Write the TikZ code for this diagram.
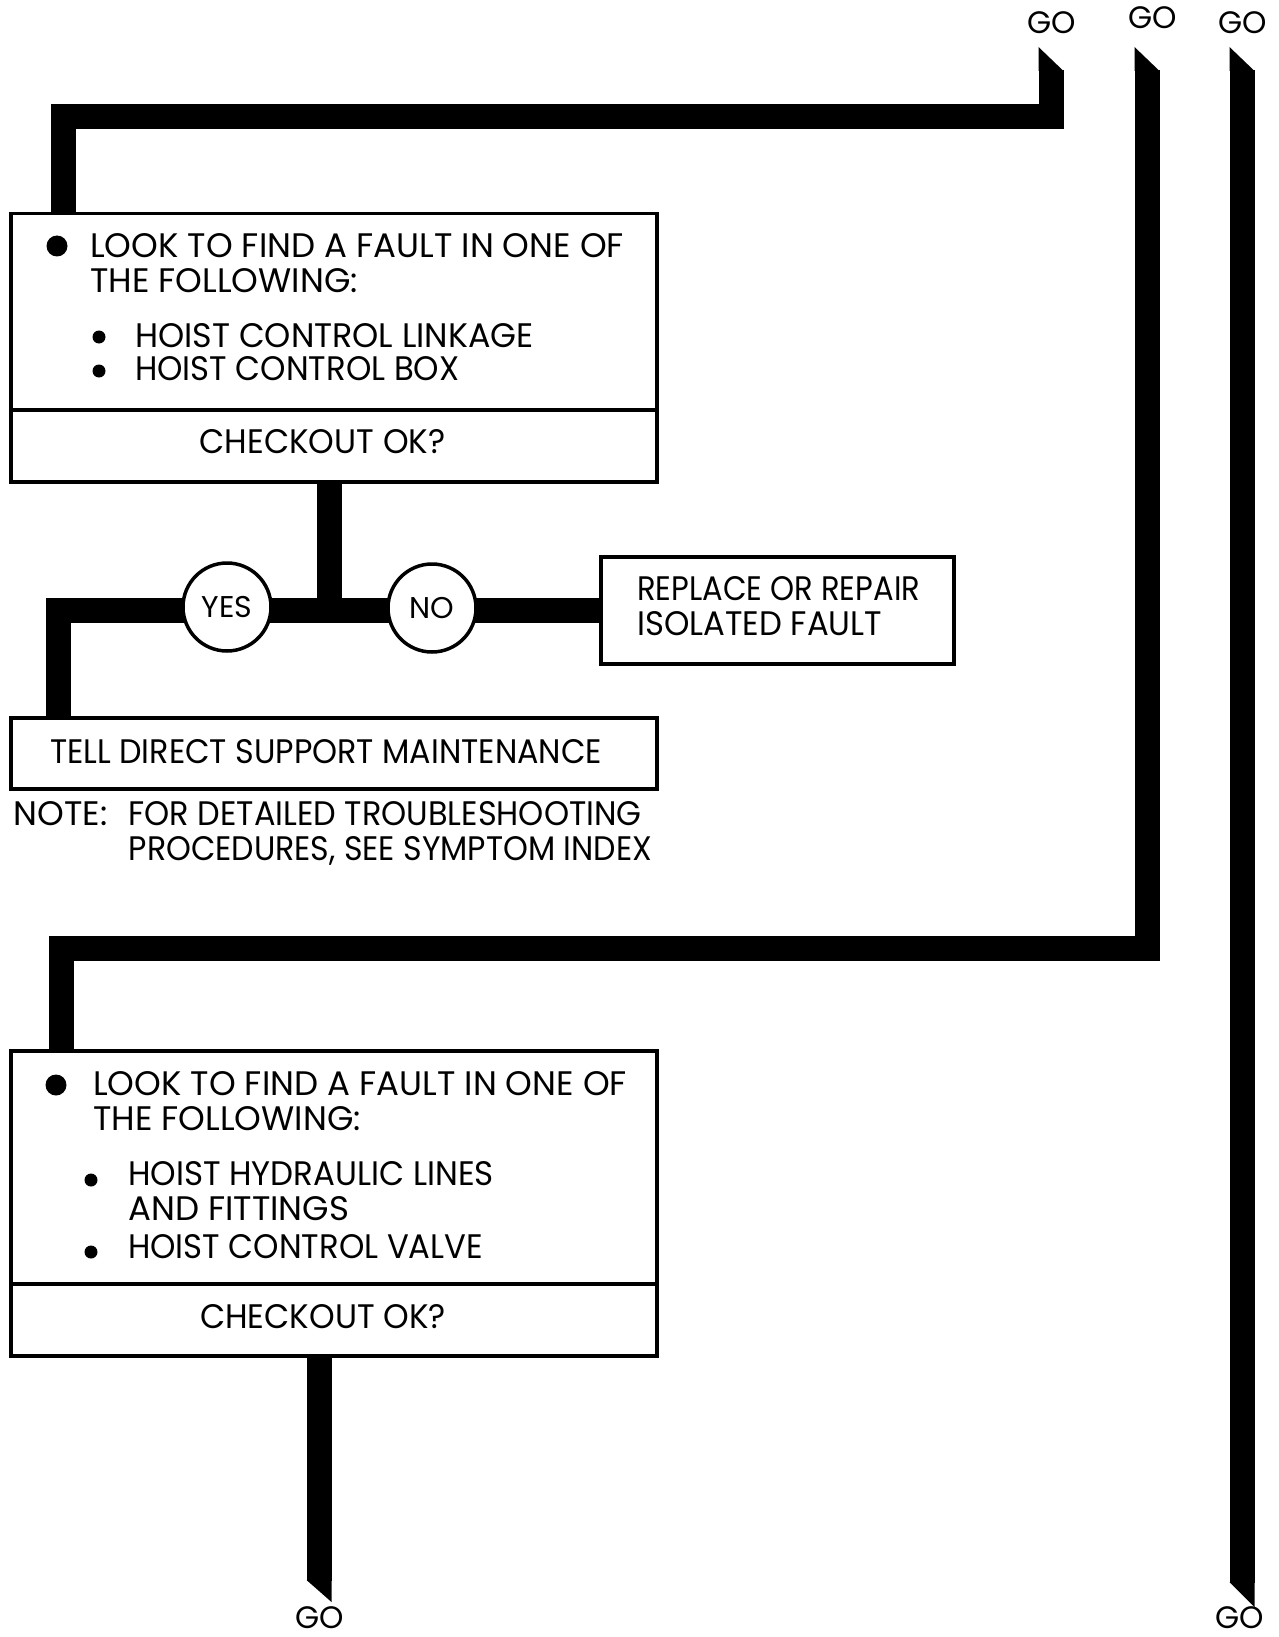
\documentclass[tikz,border=0pt]{standalone}
\usepackage{graphicx}
\usepackage{fontspec}
\setmainfont{Poppins}
\newcommand\squeezex[2]{\scalebox{#1}[1]{#2}}
\begin{document}
\begin{tikzpicture}[x=1pt,y=-1pt,
  boxline/.style={draw, line width=3.5pt, inner sep=0pt, anchor=north west},
  conn/.style={line width=25pt, line join=miter},
  txt/.style={anchor=base west, inner sep=0pt, font=\fontsize{34}{40}\selectfont},
  ctxt/.style={anchor=base, inner sep=0pt, font=\fontsize{34}{40}\selectfont},
  gotxt/.style={anchor=base, inner sep=0pt, font=\fontsize{31}{36}\selectfont},
  answer/.style={circle, draw, fill=white, line width=3.5pt, minimum size=88pt, inner sep=0pt, font=\fontsize{30}{34}\selectfont}]
\useasboundingbox (0,0) rectangle (1278,1637);
\fill[white] (0,0) rectangle (1278,1637);

% boxes
\node[boxline, minimum width=646pt, minimum height=196pt] (b1top) at (9,212) {};
\node[boxline, minimum width=646pt, minimum height=72pt] (b1bot) at (9,408) {};
\node[boxline, minimum width=353pt, minimum height=107pt] (rep) at (599,555) {};
\node[boxline, minimum width=646pt, minimum height=71pt] (b3) at (9,716) {};
\node[boxline, minimum width=646pt, minimum height=233pt] (b4top) at (9,1049) {};
\node[boxline, minimum width=646pt, minimum height=72pt] (b4bot) at (9,1282) {};

% free ends
\coordinate (go1end) at (1051,70);
\coordinate (c1) at (1051,116.5);
\coordinate (go2end) at (1147,70);
\coordinate (c2) at (1147,948.5);
\coordinate (go3top) at (1242,70);
\coordinate (go3bot) at (1242,1583);
\coordinate (go4bot) at (319,1581);
\coordinate (jn) at (329,608);

% connectors
\draw[conn] ([xshift=54.5pt]b1top.north west) |- (c1) -- (go1end);
\draw[conn] ([xshift=52.5pt]b4top.north west) |- (c2) -- (go2end);
\draw[conn] (go3top) -- (go3bot);
\draw[conn] (b4bot.south -| go4bot) -- (go4bot);
\draw[conn] (b1bot.south -| jn) -- (jn);
\draw[conn] ([xshift=49.5pt]b3.north west) |- (rep.west);

% chamfered ends
\fill (1038.5,47) -- (1063.5,71) -- (1038.5,71) -- cycle;
\fill (1134.5,47) -- (1159.5,71) -- (1134.5,71) -- cycle;
\fill (1229.5,47) -- (1254.5,71) -- (1229.5,71) -- cycle;
\fill (1229.5,1582) -- (1254.5,1582) -- (1254.5,1607) -- cycle;
\fill (306.5,1580) -- (331.5,1580) -- (331.5,1602) -- cycle;

% answers
\node[answer] (yes) at (227,607) {YES};
\node[answer] (no) at (432,608) {NO};

% box 1 text
\fill (57,246) circle (10.5pt);
\node[txt] (t1a) at (90,258) {LOOK TO FIND A FAULT IN ONE OF};
\node[txt] (t1b) at (90,292) {THE FOLLOWING:};
\fill (99,337) circle (6.5pt);
\node[txt] (t1c) at (135,347) {\squeezex{0.98}{HOIST CONTROL LINKAGE}};
\fill (99,371) circle (6.5pt);
\node[txt] (t1d) at (135,380) {\squeezex{0.95}{HOIST CONTROL BOX}};
\node[ctxt] (t1e) at (322.5,453) {\squeezex{0.96}{CHECKOUT OK?}};

% replace
\node[txt] (r1) at (637,600) {\squeezex{0.9}{REPLACE OR REPAIR}};
\node[txt] (r2) at (637,635) {\squeezex{0.95}{ISOLATED FAULT}};

% box 3 and note
\node[ctxt] (t3) at (326,763) {\squeezex{0.935}{TELL DIRECT SUPPORT MAINTENANCE}};
\node[txt] (n0) at (13.5,825) {NOTE:};
\node[txt] (n1) at (128.5,825) {\squeezex{0.94}{FOR DETAILED TROUBLESHOOTING}};
\node[txt] (n2) at (128.5,860) {\squeezex{0.93}{PROCEDURES, SEE SYMPTOM INDEX}};

% box 4 text
\fill (56,1085) circle (10.5pt);
\node[txt] (t4a) at (93,1095) {LOOK TO FIND A FAULT IN ONE OF};
\node[txt] (t4b) at (93,1130) {THE FOLLOWING:};
\fill (91,1180) circle (6.5pt);
\node[txt] (t4c) at (128,1185) {\squeezex{0.955}{HOIST HYDRAULIC LINES}};
\node[txt] (t4d) at (128,1220) {AND FITTINGS};
\fill (91,1252) circle (6.5pt);
\node[txt] (t4e) at (128,1258) {\squeezex{0.95}{HOIST CONTROL VALVE}};
\node[ctxt] (t4f) at (323,1328) {\squeezex{0.96}{CHECKOUT OK?}};

% GO labels
\node[gotxt] (g1) at (1052,34) {GO};
\node[gotxt] (g2) at (1153,29) {GO};
\node[gotxt] (g3) at (1243,34) {GO};
\node[gotxt] (g4) at (320,1628) {GO};
\node[gotxt] (g5) at (1240,1628) {GO};
\end{tikzpicture}
\end{document}
